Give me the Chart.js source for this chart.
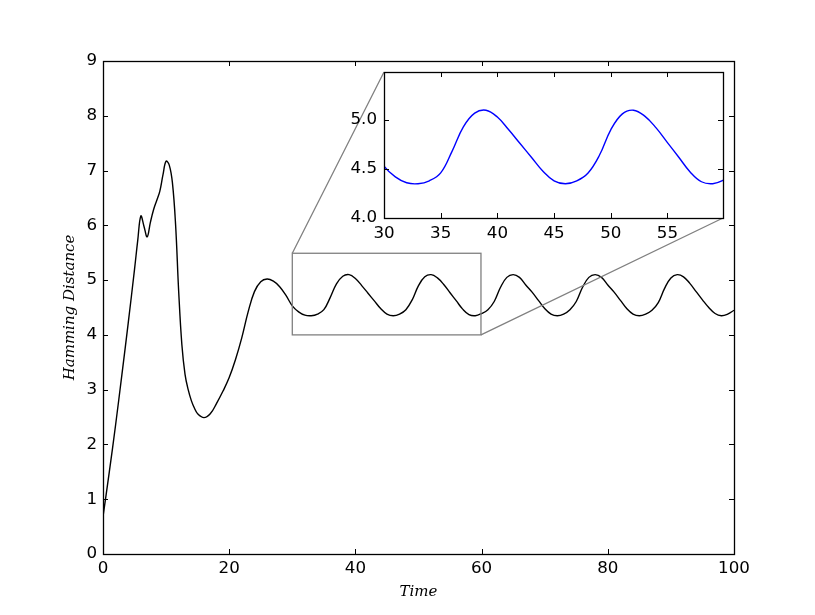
<!DOCTYPE html>
<html><head><meta charset="utf-8">
<script src="https://cdn.jsdelivr.net/npm/chart.js@4.4.1/dist/chart.umd.min.js"></script>
<style>
html,body{margin:0;padding:0;background:#fff;}
#wrap{position:relative;width:815px;height:615px;overflow:hidden;background:#fff;}
#main{position:absolute;left:0;top:0;}
#inset{position:absolute;left:320px;top:55px;}
</style></head><body>
<div id="wrap"><canvas id="main" width="815" height="615"></canvas><canvas id="inset" width="410" height="197"></canvas></div>
<script>
// ---- data ----
const times = [0,1,2,3,4,5,5.5,6,6.5,7,7.5,8,8.5,9,9.5,10,10.5,11,11.5,12,12.5,13,13.5,14,14.5,15,
  16,17,18,19,20,21,22,23,24,25,26,27,28,29,30,31,32,33,34,35,36,37,38,39,40,41,42,43,44,45,46,47,48,49,
  50,51,52,53,54,55,56,57,58,59,60,61,62,63,64,65,66,67,68,69,70,71,72,73,74,75,76,77,78,79,
  80,81,82,83,84,85,86,87,88,89,90,91,92,93,94,95,96,97,98,99,100];
const hamming = [0.68,1.5,2.36,3.28,4.22,5.2,5.72,6.17,5.98,5.79,6.05,6.28,6.45,6.62,6.92,7.17,7.1,6.78,6.02,4.78,3.82,3.28,3.0,2.8,2.66,2.56,
  2.49,2.56,2.75,2.97,3.22,3.55,3.95,4.42,4.79,4.97,5.02,4.98,4.88,4.72,4.53,4.42,4.36,4.35,4.38,4.46,4.68,4.93,5.07,5.10,5.03,4.90,4.76,4.62,4.48,4.38,4.35,4.38,4.46,4.64,
  4.90,5.06,5.10,5.04,4.92,4.77,4.62,4.47,4.37,4.35,4.39,4.46,4.61,4.87,5.05,5.10,5.05,4.91,4.78,4.63,4.48,4.38,4.35,4.38,4.46,4.61,4.87,5.05,5.10,5.05,
  4.91,4.78,4.63,4.48,4.38,4.35,4.38,4.45,4.59,4.85,5.04,5.10,5.06,4.94,4.79,4.64,4.50,4.39,4.35,4.38,4.45];
const mainXRange = [0, 100];
const mainYRange = [0, 9];
const insetXRange = [30, 59.9];
const insetYRange = [4, 5.49];
const xTitle = 'Time';
const yTitle = 'Hamming Distance';

const points = times.map((t, i) => ({x: t, y: hamming[i]}));
const tickFont = {family: 'DejaVu Sans', size: 16.7};
const titleFont = {family: 'DejaVu Serif', style: 'italic', size: 15};

function drawFrameTicks(chart, len) {
  const {ctx, chartArea: a, scales: {x, y}} = chart;
  ctx.save();
  ctx.strokeStyle = '#000';
  ctx.lineWidth = 1;
  ctx.beginPath();
  x.ticks.forEach(t => {
    const p = Math.round(x.getPixelForValue(t.value)) + 0.5;
    ctx.moveTo(p, a.bottom); ctx.lineTo(p, a.bottom - len);
    ctx.moveTo(p, a.top); ctx.lineTo(p, a.top + len);
  });
  y.ticks.forEach(t => {
    const p = Math.round(y.getPixelForValue(t.value)) + 0.5;
    ctx.moveTo(a.left, p); ctx.lineTo(a.left + len, p);
    ctx.moveTo(a.right, p); ctx.lineTo(a.right - len, p);
  });
  ctx.stroke();
  ctx.lineWidth = 1.3;
  ctx.strokeRect(Math.round(a.left) + 0.5, Math.round(a.top) + 0.5, Math.round(a.right - a.left), Math.round(a.bottom - a.top));
  ctx.restore();
}

// ---- inset ----
const insetCanvas = document.getElementById('inset');
const insetChart = new Chart(insetCanvas, {
  type: 'line',
  data: {datasets: [{data: points, borderColor: '#0000ff', borderWidth: 1.4, pointRadius: 0, fill: false, tension: 0.4}]},
  options: {
    responsive: false, animation: false, events: [],
    layout: {padding: {left: 0, top: 10, right: 7, bottom: 0}},
    plugins: {legend: {display: false}, tooltip: {enabled: false}},
    scales: {
      x: {type: 'linear', min: insetXRange[0], max: insetXRange[1],
          ticks: {stepSize: 5, includeBounds: false, padding: 6, color: '#000', font: tickFont, maxRotation: 0},
          grid: {display: false, drawTicks: false}, border: {display: false},
          afterFit(s) { s.height = 34; }},
      y: {type: 'linear', min: insetYRange[0], max: insetYRange[1],
          ticks: {stepSize: 0.5, includeBounds: false, padding: 7, color: '#000', font: tickFont, callback: v => v.toFixed(1)},
          grid: {display: false, drawTicks: false}, border: {display: false},
          afterFit(s) { s.width = 64; }}
    }
  },
  plugins: [{
    id: 'insetDeco',
    beforeDatasetsDraw(chart) {
      const {ctx, chartArea: a} = chart;
      ctx.save(); ctx.fillStyle = '#fff';
      ctx.fillRect(a.left, a.top, a.right - a.left, a.bottom - a.top);
      ctx.restore();
    },
    afterDraw(chart) { drawFrameTicks(chart, 5); }
  }]
});

// ---- main ----
new Chart(document.getElementById('main'), {
  type: 'line',
  data: {datasets: [{data: points, borderColor: '#000', borderWidth: 1.4, pointRadius: 0, fill: false, tension: 0.4}]},
  options: {
    responsive: false, animation: false, events: [],
    layout: {padding: {left: 0, top: 61, right: 81, bottom: 0}},
    plugins: {legend: {display: false}, tooltip: {enabled: false}},
    scales: {
      x: {type: 'linear', min: mainXRange[0], max: mainXRange[1],
          ticks: {stepSize: 20, padding: 5, color: '#000', font: tickFont, maxRotation: 0},
          grid: {display: false, drawTicks: false}, border: {display: false},
          title: {display: true, text: xTitle, color: '#000', font: titleFont, padding: {top: 0, bottom: 14}},
          afterFit(s) { s.height = 61; }},
      y: {type: 'linear', min: mainYRange[0], max: mainYRange[1],
          ticks: {stepSize: 1, padding: 6, color: '#000', font: tickFont},
          grid: {display: false, drawTicks: false}, border: {display: false},
          title: {display: true, text: yTitle, color: '#000', font: titleFont, padding: {top: 61, bottom: 0}},
          afterFit(s) { s.width = 103; }}
    }
  },
  plugins: [{
    id: 'mainDeco',
    afterDraw(chart) {
      drawFrameTicks(chart, 5);
      const {ctx, scales: {x, y}} = chart;
      const ix = insetChart.scales.x, iy = insetChart.scales.y, ia = insetChart.chartArea;
      const ox = insetCanvas.offsetLeft, oy = insetCanvas.offsetTop;
      const x0 = x.getPixelForValue(ix.min), x1 = x.getPixelForValue(ix.max);
      const y0 = y.getPixelForValue(iy.min), y1 = y.getPixelForValue(iy.max);
      ctx.save();
      ctx.strokeStyle = '#808080';
      ctx.lineWidth = 1.3;
      ctx.strokeRect(x0, y1, x1 - x0, y0 - y1);
      ctx.beginPath();
      ctx.moveTo(x0, y1); ctx.lineTo(ox + ia.left, oy + ia.top);
      ctx.moveTo(x1, y0); ctx.lineTo(ox + ia.right, oy + ia.bottom);
      ctx.stroke();
      ctx.restore();
    }
  }]
});
</script>
</body></html>
